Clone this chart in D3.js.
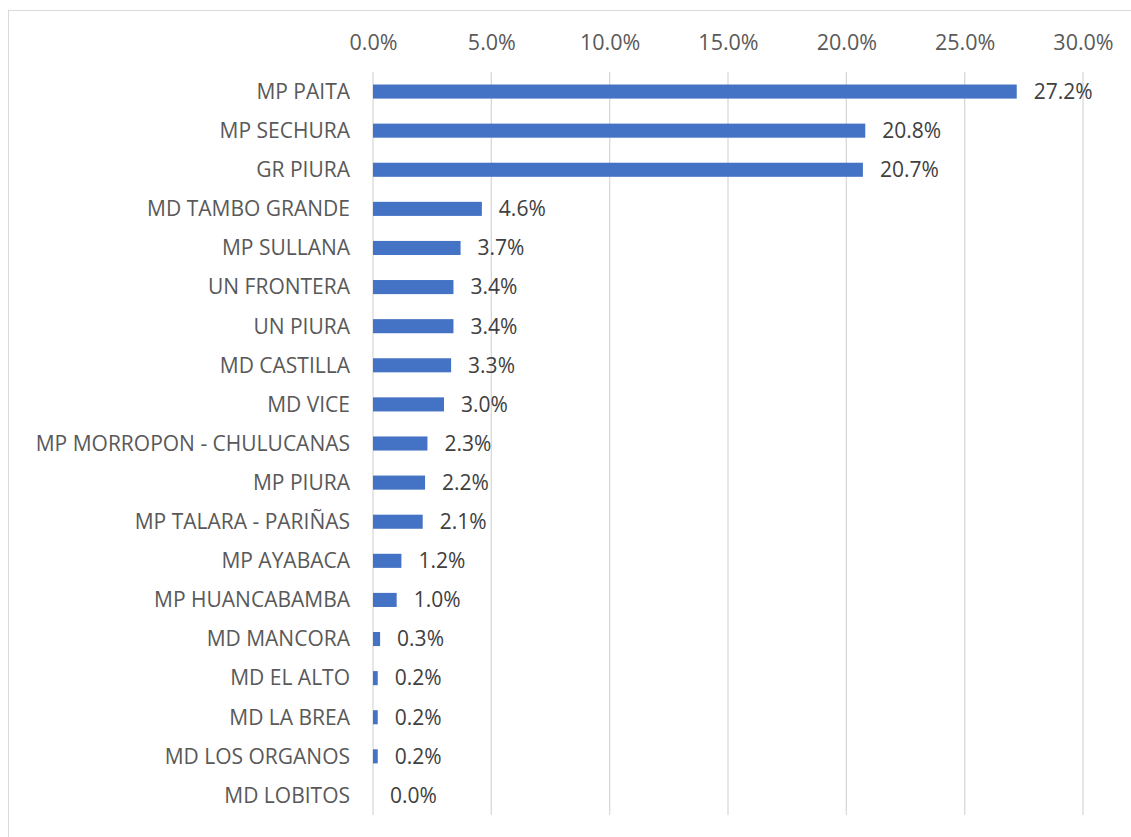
<!DOCTYPE html>
<html><head><meta charset="utf-8">
<script src="https://cdn.jsdelivr.net/npm/d3@7"></script>
<style>body{margin:0;background:#fff}text{font-family:"Open Sans",sans-serif}</style>
</head><body>
<svg id="c" width="1131" height="837"></svg>
<script>
const categories = ["MP PAITA","MP SECHURA","GR PIURA","MD TAMBO GRANDE","MP SULLANA","UN FRONTERA","UN PIURA","MD CASTILLA","MD VICE","MP MORROPON - CHULUCANAS","MP PIURA","MP TALARA - PARIÑAS","MP AYABACA","MP HUANCABAMBA","MD MANCORA","MD EL ALTO","MD LA BREA","MD LOS ORGANOS","MD LOBITOS"];
const values = [27.2,20.8,20.7,4.6,3.7,3.4,3.4,3.3,3.0,2.3,2.2,2.1,1.2,1.0,0.3,0.2,0.2,0.2,0.0];
const tickValues = [0,5,10,15,20,25,30];

const svg = d3.select("#c");
svg.append("rect").attr("x",8.5).attr("y",10.5).attr("width",1140).attr("height",840)
  .attr("fill","none").attr("stroke","#d9d9d9");

const x = d3.scaleLinear().domain([0,30]).range([373,1083]);
const y = d3.scaleBand().domain(categories).range([72,815]).paddingInner(0.64).paddingOuter(0.32);

svg.append("g").selectAll("line").data(tickValues).join("line")
  .attr("x1",d=>x(d)).attr("x2",d=>x(d)).attr("y1",72).attr("y2",815)
  .attr("stroke","#d9d9d9").attr("stroke-width",1.3);

const ax = svg.append("g").attr("transform","translate(0,42)")
  .call(d3.axisTop(x).tickValues(tickValues).tickFormat(d=>d.toFixed(1)+"%").tickSize(0).tickPadding(0));
ax.select(".domain").remove();
ax.selectAll("text").attr("fill","#595959").style("font-size","21.5px").attr("dy","0.35em").attr("y",0);

svg.append("g").selectAll("rect").data(values).join("rect")
  .attr("x",x(0)).attr("y",(d,i)=>y(categories[i]))
  .attr("width",d=>x(d)-x(0)).attr("height",y.bandwidth()).attr("fill","#4472c4");

svg.append("g").selectAll("text").data(values).join("text")
  .attr("x",d=>x(d)+17).attr("y",(d,i)=>y(categories[i])+y.bandwidth()/2)
  .attr("dy","0.35em").attr("fill","#404040").style("font-size","21px")
  .text(d=>d.toFixed(1)+"%");

svg.append("g").selectAll("text").data(categories).join("text")
  .attr("x",350).attr("y",d=>y(d)+y.bandwidth()/2)
  .attr("dy","0.35em").attr("text-anchor","end").attr("fill","#595959").style("font-size","21px")
  .text(d=>d);
</script>
</body></html>
